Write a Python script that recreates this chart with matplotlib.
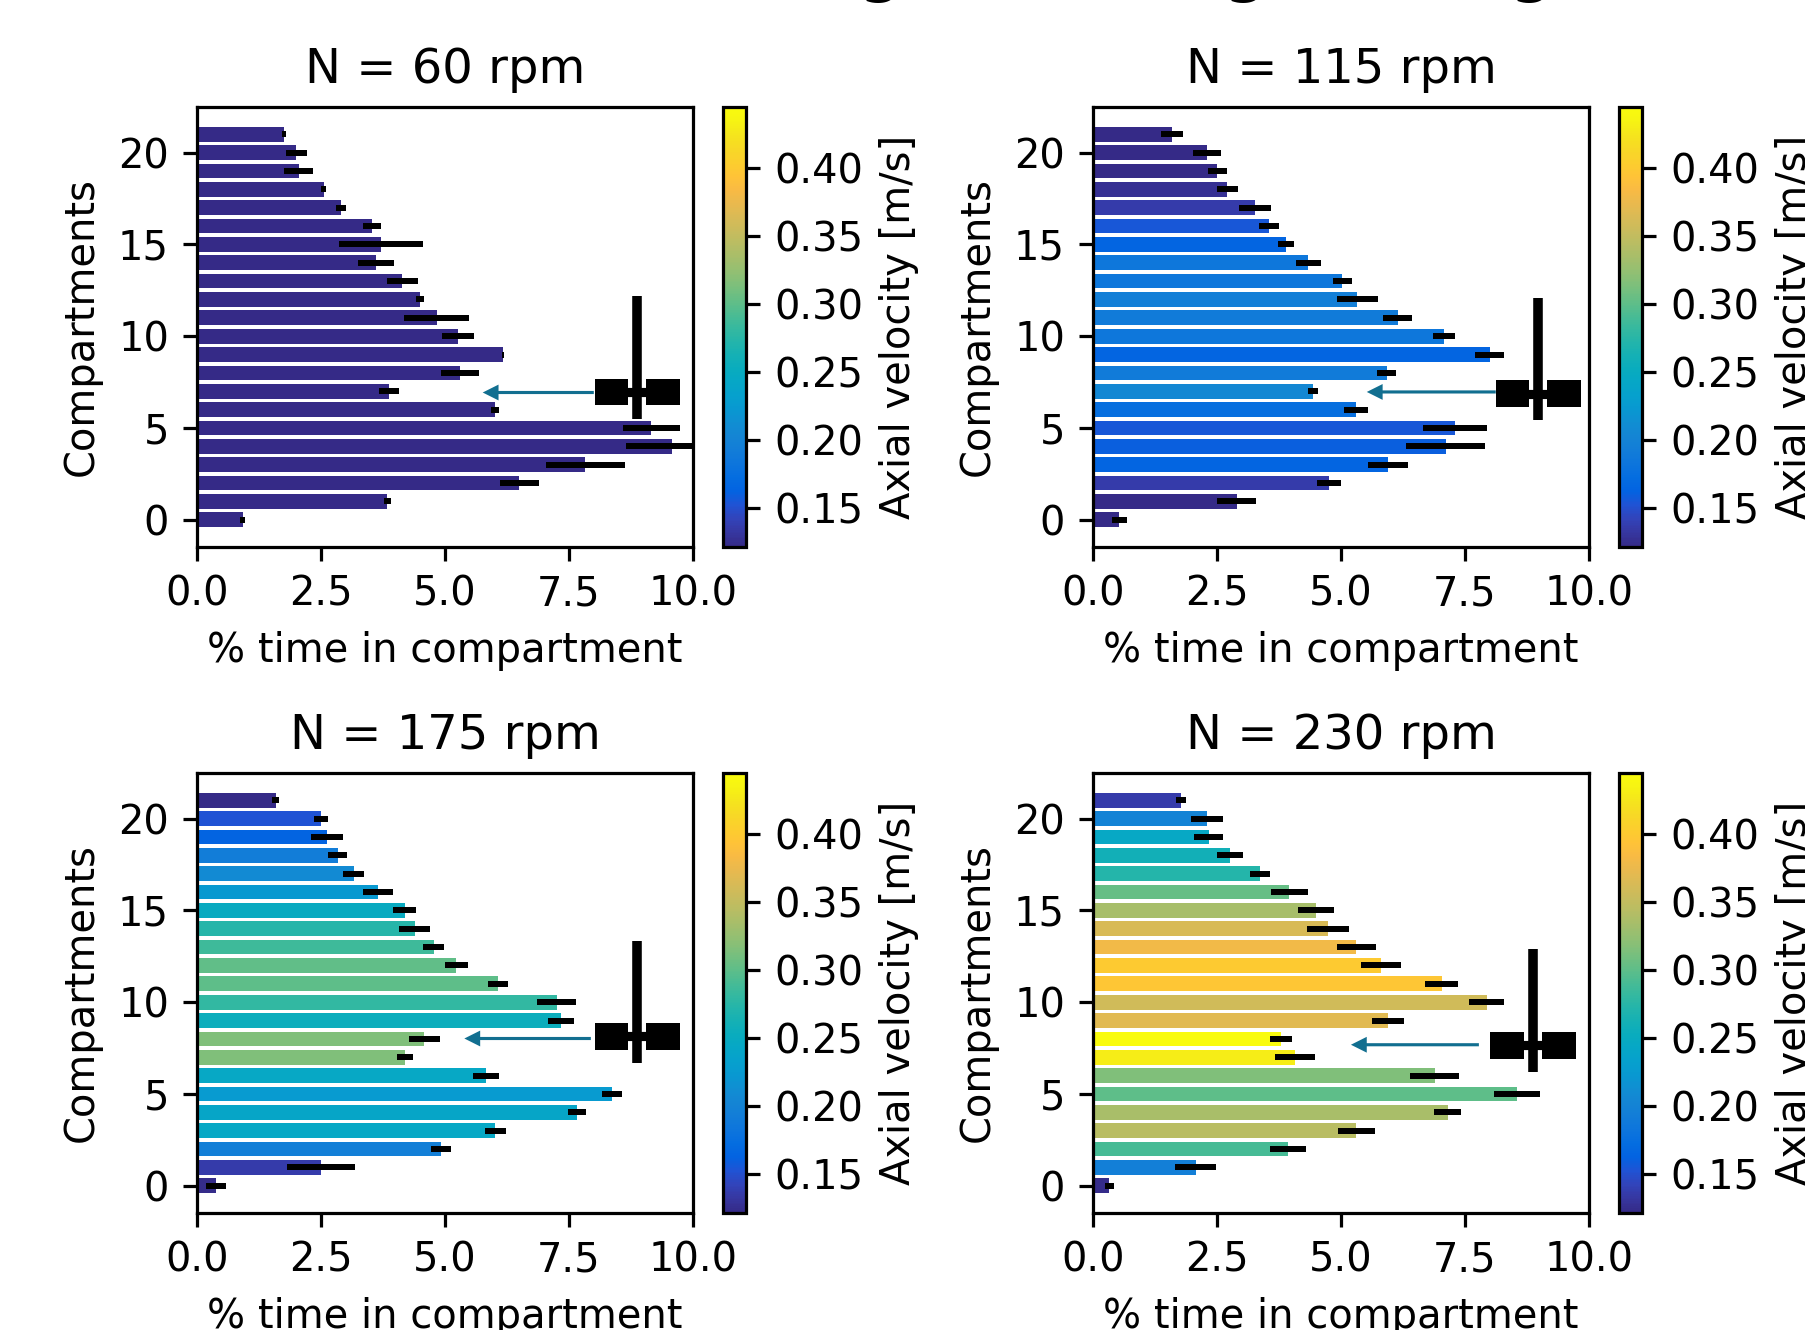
import matplotlib
matplotlib.use('Agg')
import matplotlib.pyplot as plt
from matplotlib.colors import LinearSegmentedColormap, Normalize
from matplotlib.cm import ScalarMappable
from matplotlib.patches import Rectangle
import numpy as np

W, H = 1805, 1330
compartments = np.arange(22)
speeds = ['N = 60 rpm', 'N = 115 rpm', 'N = 175 rpm', 'N = 230 rpm']

# values are listed from compartment 21 down to compartment 0
time_60 = [1.75, 2.00, 2.05, 2.56, 2.91, 3.52, 3.71, 3.61, 4.14, 4.49, 4.83,
           5.26, 6.16, 5.30, 3.87, 6.01, 9.16, 9.57, 7.83, 6.50, 3.84, 0.92]
err_60 = [0.04, 0.21, 0.29, 0.05, 0.10, 0.18, 0.84, 0.36, 0.31, 0.08, 0.65,
          0.32, 0.02, 0.39, 0.20, 0.08, 0.58, 0.93, 0.80, 0.40, 0.07, 0.05]
vel_60 = [0.122, 0.122, 0.122, 0.122, 0.122, 0.122, 0.122, 0.122, 0.122, 0.122, 0.122,
          0.122, 0.122, 0.122, 0.122, 0.122, 0.122, 0.122, 0.122, 0.122, 0.122, 0.122]

time_115 = [1.60, 2.30, 2.51, 2.71, 3.26, 3.54, 3.89, 4.34, 5.03, 5.33, 6.14,
            7.08, 8.00, 5.92, 4.43, 5.31, 7.30, 7.11, 5.95, 4.76, 2.90, 0.53]
err_115 = [0.22, 0.28, 0.20, 0.22, 0.32, 0.20, 0.17, 0.25, 0.20, 0.42, 0.30,
           0.22, 0.29, 0.19, 0.10, 0.24, 0.64, 0.80, 0.40, 0.24, 0.39, 0.15]
vel_115 = [0.122, 0.122, 0.122, 0.127, 0.135, 0.155, 0.165, 0.185, 0.185, 0.195, 0.190,
           0.185, 0.165, 0.190, 0.205, 0.175, 0.155, 0.160, 0.165, 0.135, 0.122, 0.122]

time_175 = [1.59, 2.50, 2.62, 2.84, 3.16, 3.65, 4.19, 4.39, 4.77, 5.23, 6.07,
            7.25, 7.34, 4.58, 4.19, 5.83, 8.37, 7.66, 6.01, 4.92, 2.50, 0.38]
err_175 = [0.07, 0.14, 0.33, 0.19, 0.21, 0.31, 0.23, 0.31, 0.21, 0.23, 0.20,
           0.40, 0.27, 0.31, 0.16, 0.26, 0.20, 0.18, 0.21, 0.21, 0.69, 0.20]
vel_175 = [0.122, 0.152, 0.164, 0.193, 0.208, 0.224, 0.250, 0.273, 0.286, 0.301, 0.300,
           0.280, 0.255, 0.315, 0.315, 0.245, 0.225, 0.240, 0.245, 0.195, 0.135, 0.123]

time_230 = [1.78, 2.30, 2.33, 2.77, 3.36, 3.96, 4.49, 4.74, 5.31, 5.81, 7.03,
            7.94, 5.95, 3.79, 4.07, 6.89, 8.55, 7.15, 5.31, 3.93, 2.07, 0.33]
err_230 = [0.10, 0.33, 0.29, 0.26, 0.20, 0.37, 0.36, 0.43, 0.40, 0.40, 0.33,
           0.35, 0.32, 0.22, 0.40, 0.49, 0.46, 0.27, 0.37, 0.37, 0.41, 0.09]
vel_230 = [0.135, 0.200, 0.244, 0.260, 0.272, 0.304, 0.334, 0.363, 0.380, 0.400, 0.396,
           0.358, 0.368, 0.445, 0.430, 0.315, 0.300, 0.335, 0.345, 0.290, 0.195, 0.123]

times = [time_60, time_115, time_175, time_230]
errs = [err_60, err_115, err_175, err_230]
vels = [vel_60, vel_115, vel_175, vel_230]

# impeller sketch and arrow in each panel
shaft_x = [8.87, 8.97, 8.87, 8.87]
shaft_top = [12.17, 12.10, 13.36, 12.88]
shaft_bottom = [5.50, 5.42, 6.69, 6.20]
blade_left = [8.03, 8.12, 8.03, 8.01]
blade_right = [9.74, 9.84, 9.74, 9.74]
blade_top = [7.69, 7.60, 8.87, 8.38]
blade_bottom = [6.23, 6.13, 7.41, 6.91]
arrow_start = [8.00, 8.12, 7.94, 7.78]
arrow_tip = [5.76, 5.52, 5.39, 5.20]
arrow_y = [6.93, 6.96, 8.02, 7.68]

vmin, vmax = 0.121, 0.445
parula_colors = [
    (0.2081, 0.1663, 0.5292), (0.2123, 0.2138, 0.6270), (0.1959, 0.2645, 0.7279),
    (0.1253, 0.3242, 0.8303), (0.0117, 0.3875, 0.8820), (0.0165, 0.4266, 0.8786),
    (0.0498, 0.4586, 0.8641), (0.0723, 0.4887, 0.8467), (0.0793, 0.5200, 0.8312),
    (0.0641, 0.5570, 0.8240), (0.0343, 0.5966, 0.8199), (0.0239, 0.6287, 0.8038),
    (0.0228, 0.6535, 0.7768), (0.0384, 0.6743, 0.7436), (0.0843, 0.6928, 0.7062),
    (0.1453, 0.7098, 0.6646), (0.2178, 0.7250, 0.6193), (0.3022, 0.7376, 0.5712),
    (0.3953, 0.7459, 0.5244), (0.4871, 0.7491, 0.4840), (0.5709, 0.7485, 0.4494),
    (0.6473, 0.7456, 0.4188), (0.7184, 0.7411, 0.3905), (0.7858, 0.7356, 0.3633),
    (0.8507, 0.7299, 0.3360), (0.9139, 0.7258, 0.3063), (0.9739, 0.7314, 0.2666),
    (0.9990, 0.7653, 0.2164), (0.9880, 0.8066, 0.1794), (0.9697, 0.8481, 0.1475),
    (0.9589, 0.8949, 0.1132), (0.9661, 0.9514, 0.0755), (0.9763, 0.9831, 0.0538)]
parula = LinearSegmentedColormap.from_list('parula', parula_colors)
norm = Normalize(vmin, vmax)

# original looks like default styles at a slightly lower dpi
plt.rcParams.update({
    'font.size': 9.6, 'axes.titlesize': 11.52, 'axes.labelsize': 9.6,
    'xtick.labelsize': 9.6, 'ytick.labelsize': 9.6,
    'axes.linewidth': 0.77, 'xtick.major.width': 0.77, 'ytick.major.width': 0.77,
    'xtick.major.size': 3.36, 'ytick.major.size': 3.36,
    'xtick.major.pad': 3.36, 'ytick.major.pad': 3.36,
    'axes.titlepad': 5.76, 'axes.labelpad': 3.84, 'lines.linewidth': 1.44,
})


def px_axes(fig, x0, y0, x1, y1):
    return fig.add_axes([x0 / W, 1 - y1 / H, (x1 - x0) / W, (y1 - y0) / H])


fig = plt.figure(figsize=(W / 300, H / 300), dpi=300)

lefts = [197, 1093, 197, 1093]
tops = [107, 107, 773, 773]
for i in range(4):
    x0, y0 = lefts[i], tops[i]
    ax = px_axes(fig, x0, y0, x0 + 496, y0 + 440)
    cax = px_axes(fig, x0 + 526, y0, x0 + 549, y0 + 440)

    ys = compartments[::-1]
    ax.barh(ys, times[i], xerr=errs[i], color=parula(norm(vels[i])), height=0.8)
    ax.set_xlim(0, 10)
    ax.set_ylim(-1.49, 22.49)
    ax.set_xticks([0, 2.5, 5, 7.5, 10])
    ax.set_yticks([0, 5, 10, 15, 20])
    ax.set_xlabel('% time in compartment')
    ax.set_ylabel('Compartments')
    ax.set_title(speeds[i])

    # impeller
    ax.plot([shaft_x[i], shaft_x[i]], [shaft_bottom[i], shaft_top[i]], color='k', lw=2.3,
            solid_capstyle='butt')
    mid = (blade_top[i] + blade_bottom[i]) / 2
    blade_h = blade_top[i] - blade_bottom[i]
    ax.add_patch(Rectangle((blade_left[i], blade_bottom[i]), shaft_x[i] - 0.18 - blade_left[i],
                           blade_h, color='k', lw=0))
    ax.add_patch(Rectangle((shaft_x[i] + 0.18, blade_bottom[i]), blade_right[i] - shaft_x[i] - 0.18,
                           blade_h, color='k', lw=0))
    ax.plot([shaft_x[i] - 0.2, shaft_x[i] + 0.2], [mid, mid], color='k', lw=2.2,
            solid_capstyle='butt')
    ax.annotate('', xy=(arrow_tip[i], arrow_y[i]), xytext=(arrow_start[i], arrow_y[i]),
                arrowprops=dict(width=0.75, headwidth=3.8, headlength=3.8, facecolor='#126f90',
                                edgecolor='none', lw=0, shrink=0))

    cb = fig.colorbar(ScalarMappable(norm=norm, cmap=parula), cax=cax)
    cb.set_ticks([0.15, 0.20, 0.25, 0.30, 0.35, 0.40])
    cb.set_label('Axial velocity [m/s]')

# bottom of the big title cut off by the top edge
for gx in [880, 1245, 1531]:
    fig.text(gx / W, 1 + 9 / H, 'g', fontsize=14, fontweight='bold', ha='center', va='baseline')

fig.savefig('out.png', dpi=300)
